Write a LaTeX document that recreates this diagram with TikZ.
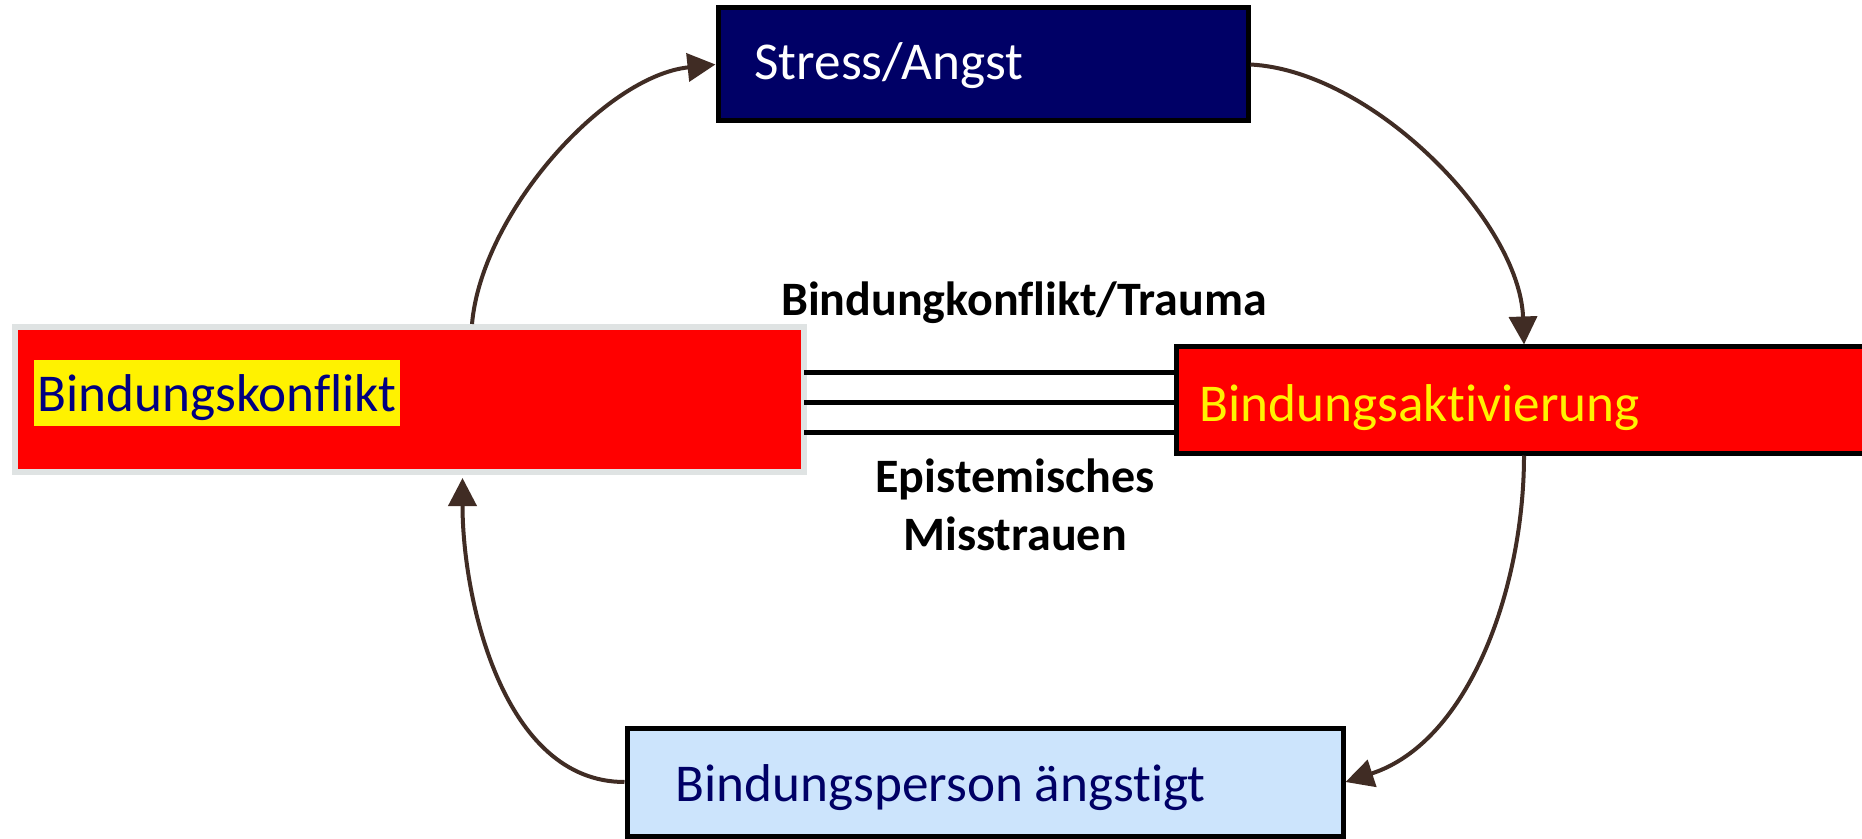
\documentclass[tikz,border=0pt]{standalone}
\usepackage{fontspec}
\setmainfont{Carlito}[Ligatures=NoCommon]
\usetikzlibrary{arrows.meta}
\definecolor{navybox}{RGB}{0,0,102}
\definecolor{navytext}{RGB}{0,0,128}
\definecolor{lightblue}{RGB}{204,228,252}
\definecolor{arrowbrown}{RGB}{64,44,36}
\definecolor{framegray}{RGB}{223,227,227}
\tikzset{
  box/.style={rectangle, draw=black, line width=2.5pt, inner sep=0pt},
  boxtext/.style={anchor=base west, inner sep=0pt, font=\fontsize{26.6}{31}\selectfont},
  tag/.style={anchor=base, align=center, inner sep=0pt, font=\fontsize{24}{29}\selectfont\bfseries},
  bar/.style={black, line width=2.5pt},
  loopedge/.style={arrowbrown, line width=2pt, -{Triangle[length=14pt,width=14pt]}}
}
\begin{document}
\begin{tikzpicture}[x=0.5pt,y=-0.5pt]
  \clip (0,0) rectangle (1862,839);
  \fill[white] (0,0) rectangle (1862,839);
  \draw
    (983,64.5) node[box, fill=navybox, minimum width=265pt, minimum height=56.5pt] (stress) {}
    (409.5,399.5) node[box, draw=framegray, line width=3pt, outer sep=0pt, fill=red, minimum width=394.5pt, minimum height=72.5pt] (konflikt) {}
    (1524,400) node[box, fill=red, minimum width=348pt, minimum height=53pt] (aktiv) {}
    (985,782) node[box, fill=lightblue, minimum width=358pt, minimum height=54pt] (person) {};
  \draw
    (754,80) node[boxtext, text=white] (stresstext) {Stress/Angst}
    (34,411) node[boxtext, fill=yellow, text=navytext, inner xsep=1.5pt, text height=25.5pt, text depth=7.5pt] (konfliktext) {Bindungskonflikt}
    (1199,422) node[boxtext, text=yellow] (aktivtext) {Bindungsaktivierung}
    (675,801) node[boxtext, text=navybox] (persontext) {Bindungsperson ängstigt}
    (1024,316) node[tag] (trauma) {Bindungkonflikt/Trauma}
    (1015,550) node[tag] (misstrauen) {Epistemisches\\Misstrauen};
  \begin{scope}[bar]
    \draw (konflikt.east |- 0,373) -- (aktiv.west |- 0,373);
    \draw (konflikt.east |- 0,403) -- (aktiv.west |- 0,403);
    \draw (konflikt.east |- 0,432) -- (aktiv.west |- 0,432);
  \end{scope}
  \begin{scope}[loopedge]
    \draw ([xshift=31.25pt,yshift=1.5pt]konflikt.north) to[out=85, in=186, looseness=0.8] (stress.west);
    \draw (stress.east) to[out=-3, in=92, looseness=0.8] (aktiv.north);
    \draw (aktiv.south) to[out=-90, in=18, looseness=0.9] (person.east);
    \draw (person.west) to[out=180, in=-90, looseness=0.9] ([xshift=26.5pt,yshift=-3pt]konflikt.south);
  \end{scope}
\end{tikzpicture}
\end{document}
